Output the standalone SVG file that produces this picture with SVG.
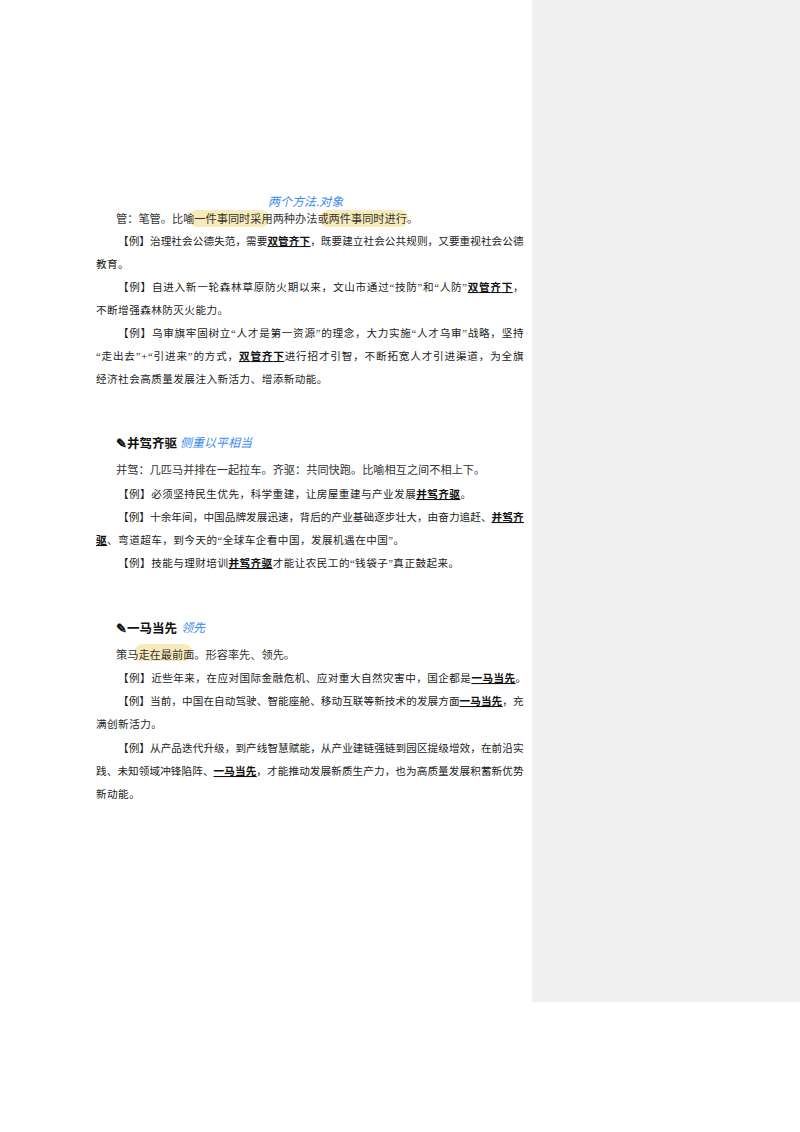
<svg xmlns="http://www.w3.org/2000/svg" width="800" height="1132" viewBox="0 0 800 1132">
<style>
text{font-family:"Liberation Serif","Noto Sans CJK SC",serif;font-size:10.6px;fill:#222;letter-spacing:0.45px}
.d{font-size:11.2px;fill:#333;font-family:"Noto Sans CJK SC",sans-serif;letter-spacing:0}
.h{font-size:12.5px;font-weight:bold;fill:#111;font-family:"Noto Sans CJK SC",sans-serif;letter-spacing:0}
.k{font-weight:bold;text-decoration:underline;fill:#111}
.n{font-family:"Noto Sans CJK SC",sans-serif;fill:#3a8cf0;font-size:12px;font-style:italic;letter-spacing:0}
.hl{fill:#f7e3a1;opacity:0.75}
</style>
<rect width="800" height="1132" fill="#fff"/>
<rect x="532" y="0" width="268" height="1002" fill="#f0f0f0"/>
<g id="hl">
<rect class="hl" x="189" y="210" width="80" height="17" rx="8"/>
<rect class="hl" x="320" y="210" width="88" height="17" rx="8"/>
<rect class="hl" x="135" y="644" width="57" height="17" rx="8"/>
</g>
<g id="sec1">
<text class="n" x="268" y="206">两个方法.对象</text>
<text class="d" x="116" y="223">管：笔管。比喻一件事同时采用两种办法或两件事同时进行。</text>
<text x="118" y="245" textLength="406" lengthAdjust="spacing">【例】治理社会公德失范，需要<tspan class="k">双管齐下</tspan>，既要建立社会公共规则，又要重视社会公德</text>
<text x="96" y="268">教育。</text>
<text x="118" y="291" textLength="406" lengthAdjust="spacing">【例】自进入新一轮森林草原防火期以来，文山市通过“技防”和“人防”<tspan class="k">双管齐下</tspan>，</text>
<text x="96" y="314">不断增强森林防灭火能力。</text>
<text x="118" y="337" textLength="406" lengthAdjust="spacing">【例】乌审旗牢固树立“人才是第一资源”的理念，大力实施“人才乌审”战略，坚持</text>
<text x="96" y="360" textLength="428" lengthAdjust="spacing">“走出去”+“引进来”的方式，<tspan class="k">双管齐下</tspan>进行招才引智，不断拓宽人才引进渠道，为全旗</text>
<text x="96" y="383">经济社会高质量发展注入新活力、增添新动能。</text>
</g>
<g id="sec2">
<text class="h" x="116" y="448">✎并驾齐驱</text>
<text class="n" x="180" y="447">侧重以平相当</text>
<text class="d" x="116" y="474">并驾：几匹马并排在一起拉车。齐驱：共同快跑。比喻相互之间不相上下。</text>
<text x="118" y="498">【例】必须坚持民生优先，科学重建，让房屋重建与产业发展<tspan class="k">并驾齐驱</tspan>。</text>
<text x="118" y="521" textLength="406" lengthAdjust="spacing">【例】十余年间，中国品牌发展迅速，背后的产业基础逐步壮大，由奋力追赶、<tspan class="k">并驾齐</tspan></text>
<text x="96" y="544"><tspan class="k">驱</tspan>、弯道超车，到今天的“全球车企看中国，发展机遇在中国”。</text>
<text x="118" y="567">【例】技能与理财培训<tspan class="k">并驾齐驱</tspan>才能让农民工的“钱袋子”真正鼓起来。</text>
</g>
<g id="sec3">
<text class="h" x="116" y="633">✎一马当先</text>
<text class="n" x="181" y="632">领先</text>
<text class="d" x="116" y="659">策马走在最前面。形容率先、领先。</text>
<text x="118" y="682">【例】近些年来，在应对国际金融危机、应对重大自然灾害中，国企都是<tspan class="k">一马当先</tspan>。</text>
<text x="118" y="705" textLength="406" lengthAdjust="spacing">【例】当前，中国在自动驾驶、智能座舱、移动互联等新技术的发展方面<tspan class="k">一马当先</tspan>，充</text>
<text x="96" y="728">满创新活力。</text>
<text x="118" y="752" textLength="406" lengthAdjust="spacing">【例】从产品迭代升级，到产线智慧赋能，从产业建链强链到园区提级增效，在前沿实</text>
<text x="96" y="775" textLength="428" lengthAdjust="spacing">践、未知领域冲锋陷阵、<tspan class="k">一马当先</tspan>，才能推动发展新质生产力，也为高质量发展积蓄新优势</text>
<text x="96" y="798">新动能。</text>
</g>
</svg>
